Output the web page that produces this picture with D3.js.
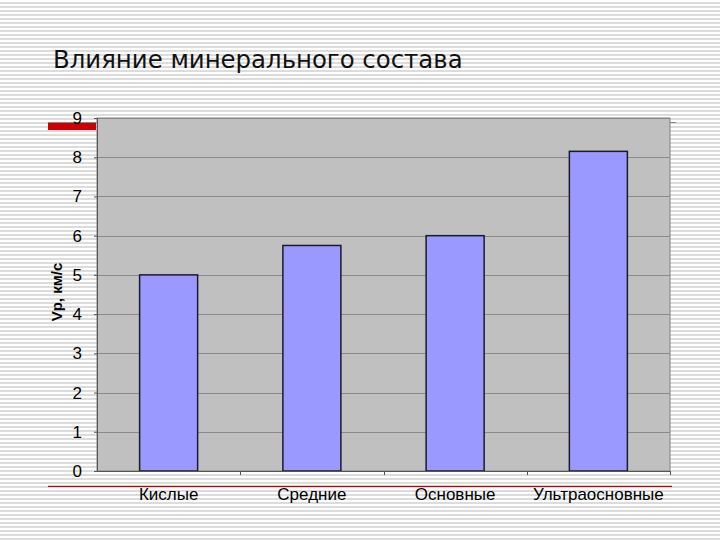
<!DOCTYPE html>
<html lang="ru">
<head>
    <meta charset="UTF-8">
    <title>Влияние минерального состава</title>
    <script src="https://cdn.jsdelivr.net/npm/d3@7/dist/d3.min.js"></script>
    <style>
        body { margin: 0; background: #fff; }
    </style>
</head>
<body>
<script type="application/javascript">

    let w = 720, h = 540;

    let categories = ['Кислые', 'Средние', 'Основные', 'Ультраосновные'];
    let values = [5.0, 5.75, 6.0, 8.15];
    let yTicks = [0, 1, 2, 3, 4, 5, 6, 7, 8, 9];

    let plot = { left: 97, right: 670, top: 118, bottom: 471 };

    let svg = d3.select('body')
        .append('svg')
        .attr('width', w)
        .attr('height', h);

    // полосатый фон слайда
    let pattern = svg.append('defs')
        .append('pattern')
        .attr('id', 'stripes')
        .attr('width', 8)
        .attr('height', 4)
        .attr('patternUnits', 'userSpaceOnUse');
    pattern.append('rect').attr('width', 8).attr('height', 4).attr('fill', '#ffffff');
    pattern.append('rect').attr('y', 2).attr('width', 8).attr('height', 2).attr('fill', '#dcdcdc');

    svg.append('rect')
        .attr('width', w)
        .attr('height', h)
        .attr('fill', 'url(#stripes)');

    // заголовок
    svg.append('text')
        .attr('x', 53)
        .attr('y', 68)
        .attr('font-family', 'DejaVu Sans, Verdana, sans-serif')
        .attr('font-size', 24.4)
        .attr('fill', '#111')
        .text('Влияние минерального состава');

    // линии оформления слайда
    svg.append('line')
        .attr('x1', 48).attr('x2', 676)
        .attr('y1', 122.5).attr('y2', 122.5)
        .attr('stroke', '#888').attr('stroke-width', 1);
    svg.append('rect')
        .attr('x', 48).attr('y', 123)
        .attr('width', 48).attr('height', 7)
        .attr('fill', '#cc0000');
    svg.append('line')
        .attr('x1', 48).attr('x2', 672)
        .attr('y1', 486.5).attr('y2', 486.5)
        .attr('stroke', '#c00000').attr('stroke-width', 1);
    svg.append('line')
        .attr('x1', 48).attr('x2', 672)
        .attr('y1', 485.5).attr('y2', 485.5)
        .attr('stroke', '#f3caca').attr('stroke-width', 1);

    let x = d3.scaleBand()
        .domain(categories)
        .range([plot.left, plot.right])
        .paddingInner(0.595)
        .paddingOuter(0.2975);

    let y = d3.scaleLinear()
        .domain([0, 9])
        .range([plot.bottom, plot.top]);

    // область построения
    svg.append('rect')
        .attr('x', plot.left)
        .attr('y', plot.top)
        .attr('width', plot.right - plot.left)
        .attr('height', plot.bottom - plot.top)
        .attr('fill', '#c0c0c0')
        .attr('stroke', '#808080')
        .attr('stroke-width', 1);

    // сетка
    svg.append('g')
        .selectAll('line')
        .data(yTicks.slice(1))
        .enter()
        .append('line')
        .attr('x1', plot.left)
        .attr('x2', plot.right)
        .attr('y1', d => Math.round(y(d)) + 0.5)
        .attr('y2', d => Math.round(y(d)) + 0.5)
        .attr('stroke', '#8a8a8a')
        .attr('stroke-width', 1);

    // столбцы
    svg.append('g')
        .selectAll('rect')
        .data(values)
        .enter()
        .append('rect')
        .attr('x', (d, i) => x(categories[i]))
        .attr('y', d => y(d))
        .attr('width', x.bandwidth())
        .attr('height', d => plot.bottom - y(d))
        .attr('fill', '#9999ff')
        .attr('stroke', '#1a1a2e')
        .attr('stroke-width', 1.5);

    // ось Y
    let yAxis = svg.append('g')
        .attr('transform', 'translate(' + plot.left + ',0)')
        .call(d3.axisLeft(y).tickValues(yTicks).tickSize(3).tickPadding(12));
    yAxis.select('.domain').attr('stroke', '#555');
    yAxis.selectAll('.tick line').attr('stroke', '#555');
    yAxis.selectAll('text')
        .attr('font-family', 'Liberation Sans, Arial, sans-serif')
        .attr('font-size', 17)
        .attr('fill', '#000');

    // ось X
    let xAxis = svg.append('g')
        .attr('transform', 'translate(0,' + plot.bottom + ')')
        .call(d3.axisBottom(x).tickSize(0).tickPadding(17));
    xAxis.select('.domain').attr('stroke', '#555');
    xAxis.selectAll('text')
        .attr('font-family', 'Liberation Sans, Arial, sans-serif')
        .attr('font-size', 17)
        .attr('fill', '#000');

    // засечки между категориями
    let bounds = categories.map(c => x(c) - x.step() * x.paddingInner() / 2 + x.step());
    svg.append('g')
        .selectAll('line')
        .data(bounds)
        .enter()
        .append('line')
        .attr('x1', d => Math.round(d) + 0.5)
        .attr('x2', d => Math.round(d) + 0.5)
        .attr('y1', plot.bottom)
        .attr('y2', plot.bottom + 4)
        .attr('stroke', '#555');

    // подпись оси Y
    svg.append('text')
        .attr('transform', 'translate(62,292) rotate(-90)')
        .attr('text-anchor', 'middle')
        .attr('font-family', 'Liberation Sans, Arial, sans-serif')
        .attr('font-weight', 'bold')
        .attr('font-size', 15)
        .attr('fill', '#000')
        .text('Vp, км/с');

</script>
</body>
</html>
